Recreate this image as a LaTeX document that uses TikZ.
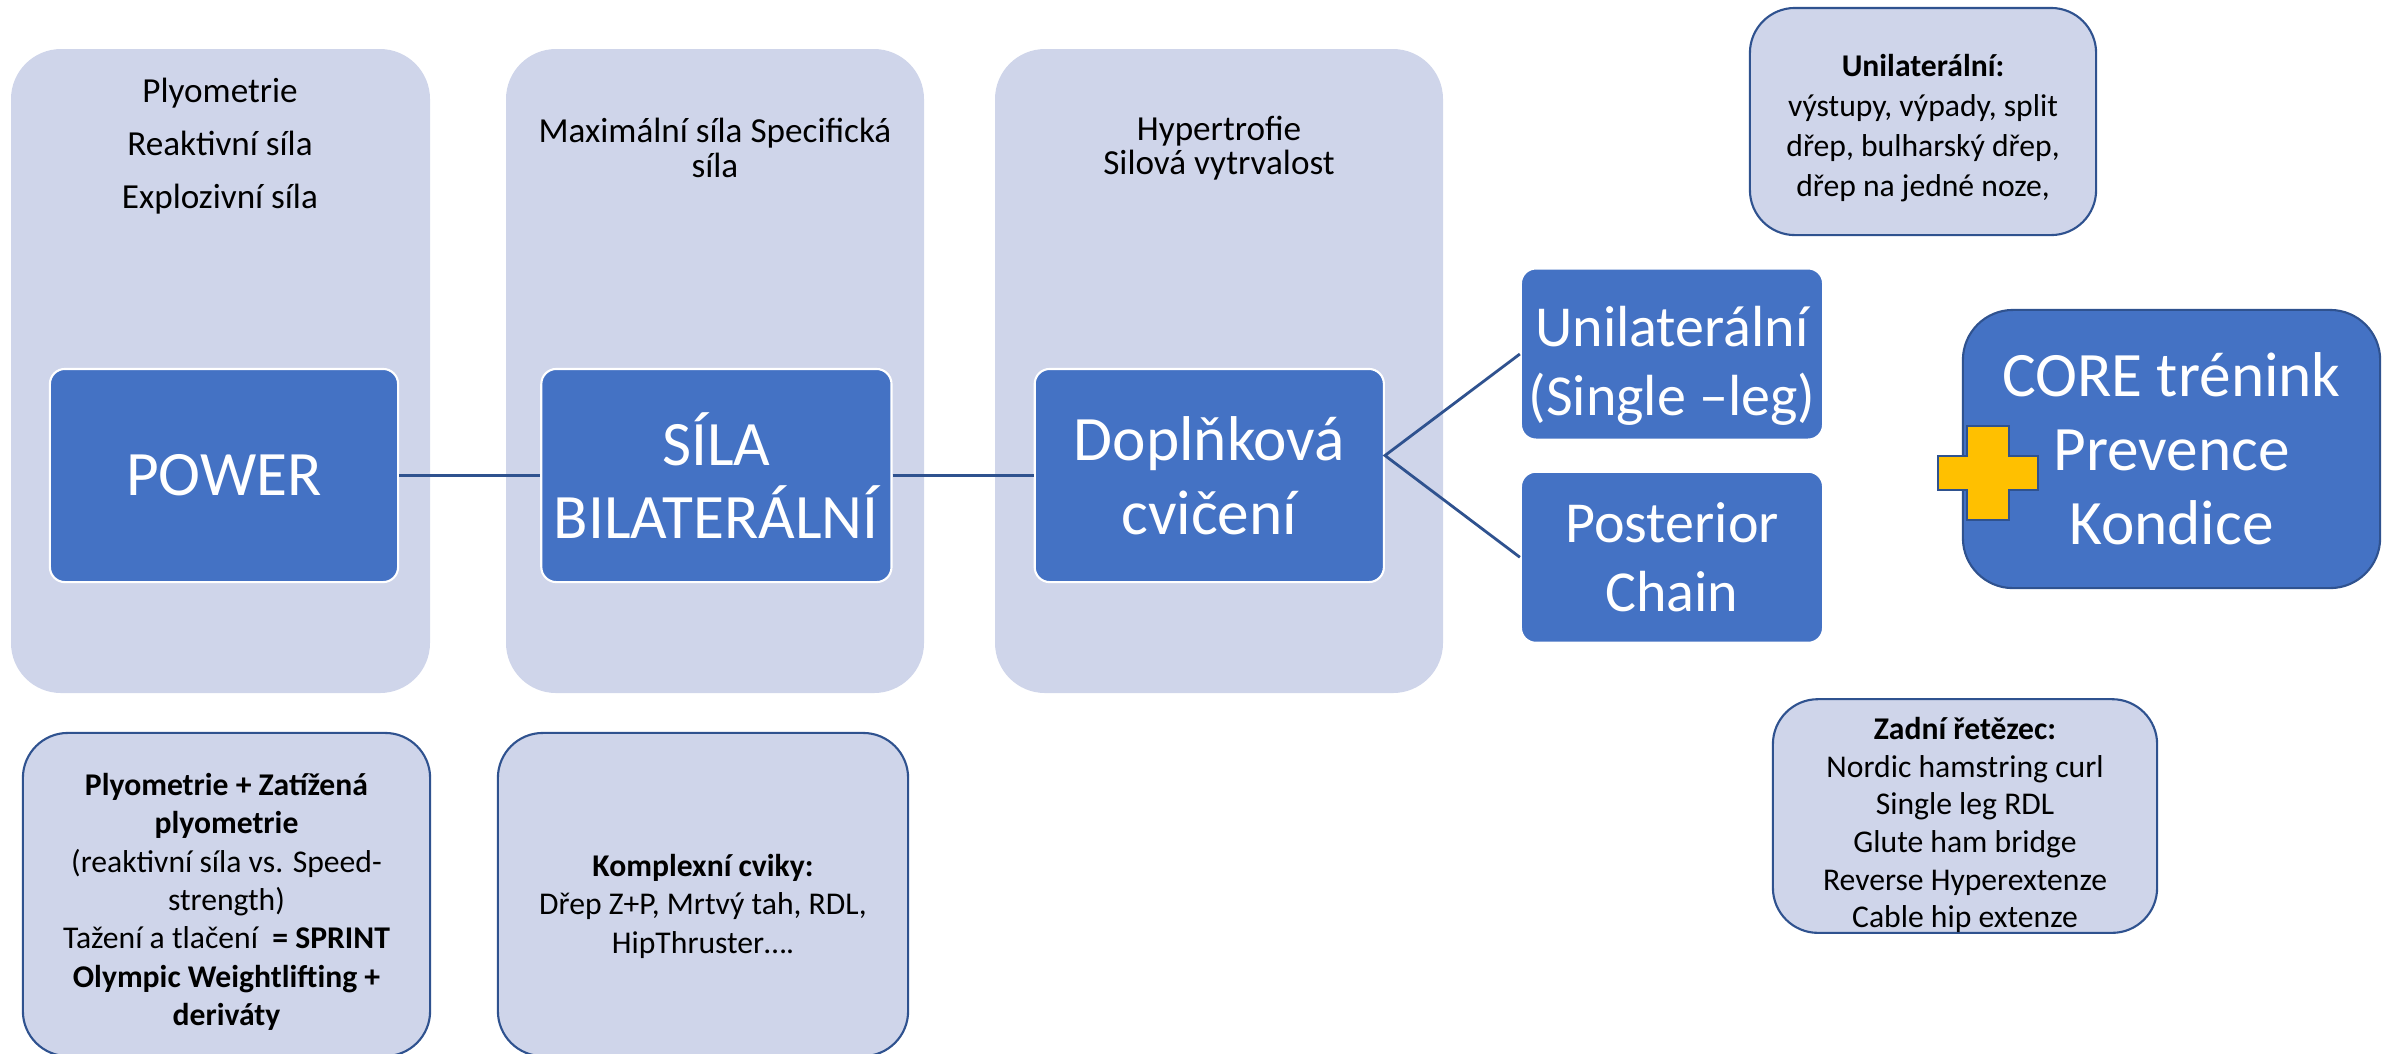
\documentclass[tikz,border=0pt]{standalone}
\usepackage{fontspec}
\setmainfont{Carlito}
\usetikzlibrary{positioning}

\definecolor{darkblue}{HTML}{4472C4}
\definecolor{lightblue}{HTML}{CFD5EA}
\definecolor{edgeblue}{HTML}{2F528F}
\definecolor{plusyellow}{HTML}{FFC000}

\newcommand{\toppad}[1]{\rule{0pt}{#1}} % extra room above the first line

\tikzset{
  column/.style={fill=lightblue, rounded corners=0.5cm},
  coltext/.style={align=center, inner sep=0pt, font=\fontsize{10}{9.8}\selectfont},
  darkbox/.style={fill=darkblue, draw=white, line width=0.6pt, rounded corners=0.15cm,
    text=white, align=center, inner sep=0pt, font=\fontsize{18}{21}\selectfont},
  sidebox/.style={darkbox, minimum width=3.02cm, minimum height=1.71cm,
    font=\fontsize{16.5}{19.6}\selectfont},
  notebox/.style={fill=lightblue, draw=edgeblue, line width=0.6pt, rounded corners=0.45cm,
    align=center, inner sep=0pt, font=\fontsize{9}{10.9}\selectfont},
  link/.style={draw=edgeblue, line width=0.8pt},
  plusshape/.style={fill=plusyellow, draw=edgeblue, line width=0.6pt},
}

\begin{document}
\begin{tikzpicture}[x=0.01cm, y=-0.01cm]
  \useasboundingbox (0,0) rectangle (2382,1053);

  % Background columns
  \foreach \xl/\xr in {11/430, 506/924, 995/1443} {
    \fill[column] (\xl,49) rectangle (\xr,693);
  }

  % Column headings
  \node[coltext, font=\fontsize{10}{15}\selectfont] (powertext) at (220,146) {Plyometrie\\Reaktivní síla\\Explozivní síla};
  \node[coltext] (silatext) at (715,148) {Maximální síla Specifická\\síla};
  \node[coltext] (dopltext) at (1219,148) {Hypertrofie\\Silová vytrvalost};

  % Main chain
  \node[darkbox, minimum width=3.48cm, minimum height=2.13cm] (power) at (224,475.5) {POWER};
  \node[darkbox, minimum width=3.50cm, minimum height=2.13cm, right=1.41cm of power] (sila) {SÍLA\\BILATERÁLNÍ};
  \node[darkbox, minimum width=3.49cm, minimum height=2.13cm, right=1.41cm of sila] (dopl) {Doplňková\\cvičení};

  % Branches
  \node[sidebox] (uni) at (1672,354) {\toppad{18pt}Unilaterální\\(Single –leg)};
  \node[sidebox, below=0.30cm of uni] (post) {Posterior\\Chain};

  \node[darkbox, draw=edgeblue, rounded corners=0.5cm, minimum width=4.17cm, minimum height=2.78cm]
    (core) at (2171.5,449) {CORE trénink\\Prevence\\Kondice};

  % Plus sign
  \draw[plusshape, shift={(1988,473)}] (-21,-47) -- (21,-47) -- (21,-17) -- (50,-17) -- (50,17)
    -- (21,17) -- (21,47) -- (-21,47) -- (-21,17) -- (-50,17) -- (-50,-17) -- (-21,-17) -- cycle;

  % Connectors
  \coordinate (fork) at ([yshift=0.2cm]dopl.east);
  \draw[link] (power) -- (sila);
  \draw[link] (sila) -- (dopl);
  \draw[link] (uni.west) -- (fork) -- (post.west);

  % Notes
  \node[notebox, minimum width=3.46cm, minimum height=2.27cm, font=\fontsize{9}{11.4}\selectfont] (uninote) at (1923,121.5)
    {\toppad{10pt}\textbf{Unilaterální:}\\výstupy, výpady, split\\dřep, bulharský dřep,\\dřep na jedné noze,};
  \node[notebox, minimum width=3.84cm, minimum height=2.28cm, font=\fontsize{9}{10.7}\selectfont] (postnote) at (1965,816)
    {\toppad{11.5pt}\textbf{Zadní řetězec:}\\Nordic hamstring curl\\Single leg RDL\\Glute ham bridge\\Reverse Hyperextenze\\Cable hip extenze};
  \node[notebox, minimum width=4.07cm, minimum height=3.23cm] (powernote) at (226.5,894.5)
    {\toppad{10.5pt}\textbf{Plyometrie + Zatížená}\\\textbf{plyometrie}\\(reaktivní síla vs. Speed-\\strength)\\Tažení a tlačení \ \textbf{= SPRINT}\\\textbf{Olympic Weightlifting +}\\\textbf{deriváty}};
  \node[notebox, minimum width=4.10cm, minimum height=3.23cm] (silanote) at (703,894.5)
    {\toppad{13pt}\textbf{Komplexní cviky:}\\Dřep Z+P, Mrtvý tah, RDL,\\HipThruster….};
\end{tikzpicture}
\end{document}
